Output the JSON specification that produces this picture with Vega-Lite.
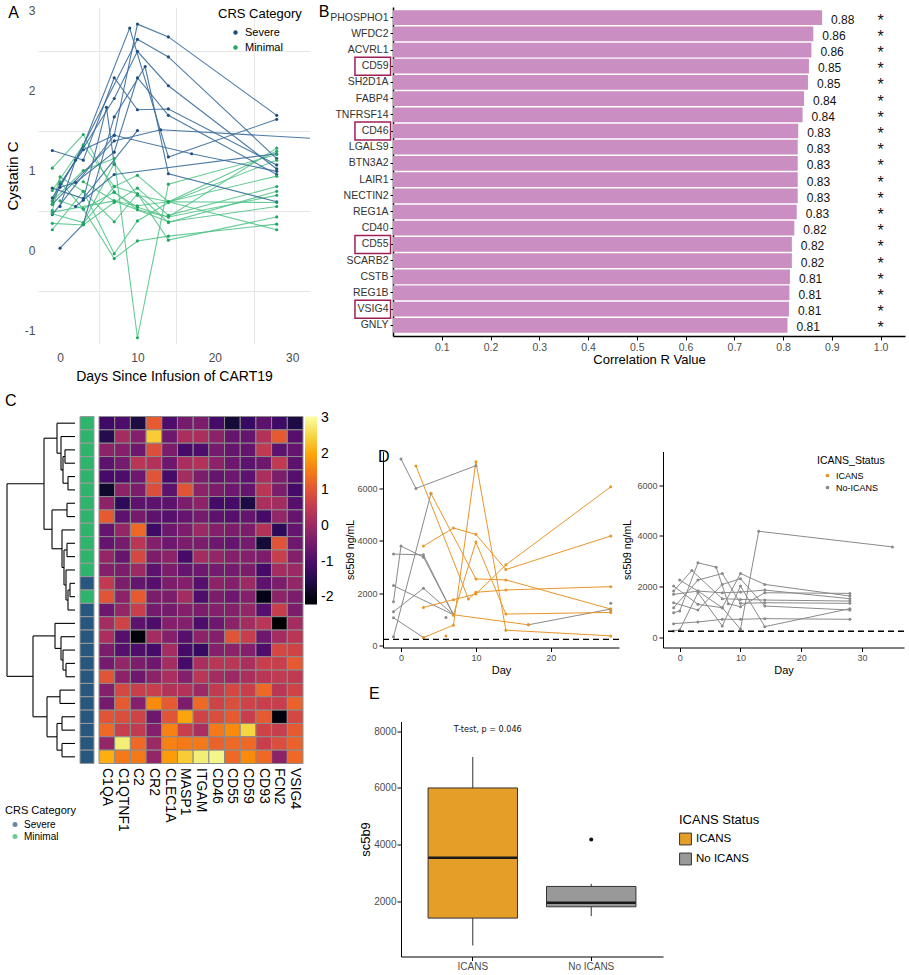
{
"$schema": "https://vega.github.io/schema/vega-lite/v6.json",
"padding": {"left": 5, "top": 3, "right": 2, "bottom": 2},
"background": "white",
"config": {
  "view": {"stroke": null},
  "font": "Liberation Sans",
  "title": {"fontWeight": "normal", "fontSize": 16, "anchor": "start", "color": "#000"},
  "axis": {"titleFontWeight": "normal", "titleColor": "#000", "labelColor": "#4d4d4d", "domainColor": "#000", "tickColor": "#000", "grid": false},
  "legend": {"titleFontWeight": "normal", "titleColor": "#000", "labelColor": "#000"}
},
"datasets": {
  "crs": [
    {"row":1,"crs":"Minimal"},{"row":2,"crs":"Minimal"},{"row":3,"crs":"Minimal"},{"row":4,"crs":"Minimal"},{"row":5,"crs":"Minimal"},{"row":6,"crs":"Minimal"},{"row":7,"crs":"Minimal"},{"row":8,"crs":"Minimal"},{"row":9,"crs":"Minimal"},{"row":10,"crs":"Minimal"},{"row":11,"crs":"Minimal"},{"row":12,"crs":"Minimal"},{"row":13,"crs":"Severe"},{"row":14,"crs":"Minimal"},{"row":15,"crs":"Severe"},{"row":16,"crs":"Severe"},{"row":17,"crs":"Severe"},{"row":18,"crs":"Severe"},{"row":19,"crs":"Severe"},{"row":20,"crs":"Severe"},{"row":21,"crs":"Severe"},{"row":22,"crs":"Severe"},{"row":23,"crs":"Severe"},{"row":24,"crs":"Severe"},{"row":25,"crs":"Severe"},{"row":26,"crs":"Severe"}
  ],
  "cys": [
      {"p":"S1","d":-1,"c":0.62,"k":"Severe"},{"p":"S1","d":3,"c":1.31,"k":"Severe"},{"p":"S1","d":9,"c":2.78,"k":"Severe"},{"p":"S1","d":14,"c":1.17,"k":"Severe"},{"p":"S1","d":28,"c":1.64,"k":"Severe"},
      {"p":"S2","d":-1,"c":0.45,"k":"Severe"},{"p":"S2","d":7,"c":1.44,"k":"Severe"},{"p":"S2","d":10,"c":2.83,"k":"Severe"},{"p":"S2","d":14,"c":2.67,"k":"Severe"},{"p":"S2","d":28,"c":1.69,"k":"Severe"},
      {"p":"S3","d":0,"c":0.55,"k":"Severe"},{"p":"S3","d":2,"c":1.13,"k":"Severe"},{"p":"S3","d":10,"c":2.64,"k":"Severe"},{"p":"S3","d":14,"c":2.42,"k":"Severe"},{"p":"S3","d":28,"c":1.15,"k":"Severe"},
      {"p":"S4","d":-1,"c":0.66,"k":"Severe"},{"p":"S4","d":7,"c":1.9,"k":"Severe"},{"p":"S4","d":10,"c":2.49,"k":"Severe"},{"p":"S4","d":14,"c":2.06,"k":"Severe"},{"p":"S4","d":28,"c":1.02,"k":"Severe"},
      {"p":"S5","d":0,"c":0.03,"k":"Severe"},{"p":"S5","d":3,"c":0.33,"k":"Severe"},{"p":"S5","d":7,"c":1.67,"k":"Severe"},{"p":"S5","d":11,"c":2.3,"k":"Severe"},{"p":"S5","d":14,"c":0.96,"k":"Severe"},{"p":"S5","d":28,"c":0.61,"k":"Severe"},
      {"p":"S6","d":-1,"c":1.25,"k":"Severe"},{"p":"S6","d":3,"c":1.13,"k":"Severe"},{"p":"S6","d":7,"c":2.16,"k":"Severe"},{"p":"S6","d":10,"c":1.76,"k":"Severe"},{"p":"S6","d":14,"c":1.77,"k":"Severe"},{"p":"S6","d":28,"c":1.07,"k":"Severe"},
      {"p":"S7","d":0,"c":0.79,"k":"Severe"},{"p":"S7","d":2,"c":0.85,"k":"Severe"},{"p":"S7","d":7,"c":1.23,"k":"Severe"},{"p":"S7","d":10,"c":2.16,"k":"Severe"},{"p":"S7","d":14,"c":1.69,"k":"Severe"},{"p":"S7","d":28,"c":0.95,"k":"Severe"},
      {"p":"S8","d":-1,"c":0.78,"k":"Severe"},{"p":"S8","d":3,"c":0.65,"k":"Severe"},{"p":"S8","d":10,"c":1.5,"k":"Severe"},
      {"p":"S9","d":-1,"c":0.58,"k":"Severe"},{"p":"S9","d":7,"c":1.37,"k":"Severe"},{"p":"S9","d":13,"c":1.51,"k":"Severe"},{"p":"S9","d":33,"c":1.40,"k":"Severe"},
      {"p":"S10","d":0,"c":0.83,"k":"Severe"},{"p":"S10","d":3,"c":1.26,"k":"Severe"},{"p":"S10","d":7,"c":1.44,"k":"Severe"},{"p":"S10","d":17,"c":1.21,"k":"Severe"},{"p":"S10","d":28,"c":0.99,"k":"Severe"},
      {"p":"S11","d":3,"c":0.63,"k":"Severe"},{"p":"S11","d":6,"c":1.79,"k":"Severe"},{"p":"S11","d":7,"c":1.08,"k":"Severe"},
      {"p":"S12","d":2,"c":0.55,"k":"Severe"},{"p":"S12","d":7,"c":0.95,"k":"Severe"},{"p":"S12","d":28,"c":1.21,"k":"Severe"},
      {"p":"G1","d":-1,"c":1.03,"k":"Minimal"},{"p":"G1","d":3,"c":1.45,"k":"Minimal"},{"p":"G1","d":7,"c":0.73,"k":"Minimal"},{"p":"G1","d":10,"c":0.54,"k":"Minimal"},{"p":"G1","d":14,"c":0.42,"k":"Minimal"},{"p":"G1","d":28,"c":1.28,"k":"Minimal"},
      {"p":"G2","d":-1,"c":0.75,"k":"Minimal"},{"p":"G2","d":3,"c":1.32,"k":"Minimal"},{"p":"G2","d":7,"c":0.80,"k":"Minimal"},{"p":"G2","d":10,"c":0.94,"k":"Minimal"},{"p":"G2","d":14,"c":0.61,"k":"Minimal"},{"p":"G2","d":28,"c":1.24,"k":"Minimal"},
      {"p":"G3","d":-1,"c":0.62,"k":"Minimal"},{"p":"G3","d":3,"c":1.00,"k":"Minimal"},{"p":"G3","d":7,"c":1.15,"k":"Minimal"},{"p":"G3","d":10,"c":-1.09,"k":"Minimal"},{"p":"G3","d":14,"c":0.83,"k":"Minimal"},{"p":"G3","d":28,"c":1.20,"k":"Minimal"},
      {"p":"G4","d":-1,"c":0.58,"k":"Minimal"},{"p":"G4","d":0,"c":0.92,"k":"Minimal"},{"p":"G4","d":3,"c":0.74,"k":"Minimal"},{"p":"G4","d":7,"c":-0.04,"k":"Minimal"},{"p":"G4","d":10,"c":0.37,"k":"Minimal"},{"p":"G4","d":14,"c":0.60,"k":"Minimal"},{"p":"G4","d":28,"c":1.13,"k":"Minimal"},
      {"p":"G5","d":-1,"c":0.50,"k":"Minimal"},{"p":"G5","d":0,"c":0.86,"k":"Minimal"},{"p":"G5","d":3,"c":0.52,"k":"Minimal"},{"p":"G5","d":7,"c":-0.10,"k":"Minimal"},{"p":"G5","d":10,"c":0.12,"k":"Minimal"},{"p":"G5","d":14,"c":0.18,"k":"Minimal"},{"p":"G5","d":28,"c":0.33,"k":"Minimal"},
      {"p":"G6","d":-1,"c":0.46,"k":"Minimal"},{"p":"G6","d":3,"c":0.35,"k":"Minimal"},{"p":"G6","d":7,"c":1.09,"k":"Minimal"},{"p":"G6","d":10,"c":0.69,"k":"Minimal"},{"p":"G6","d":14,"c":0.61,"k":"Minimal"},{"p":"G6","d":28,"c":0.93,"k":"Minimal"},
      {"p":"G7","d":-1,"c":0.34,"k":"Minimal"},{"p":"G7","d":3,"c":0.32,"k":"Minimal"},{"p":"G7","d":7,"c":0.60,"k":"Minimal"},{"p":"G7","d":10,"c":0.78,"k":"Minimal"},{"p":"G7","d":14,"c":0.44,"k":"Minimal"},{"p":"G7","d":28,"c":0.80,"k":"Minimal"},
      {"p":"G8","d":-1,"c":0.26,"k":"Minimal"},{"p":"G8","d":3,"c":0.74,"k":"Minimal"},{"p":"G8","d":7,"c":0.36,"k":"Minimal"},{"p":"G8","d":10,"c":0.71,"k":"Minimal"},{"p":"G8","d":14,"c":0.35,"k":"Minimal"},{"p":"G8","d":28,"c":0.74,"k":"Minimal"},
      {"p":"G9","d":0,"c":0.62,"k":"Minimal"},{"p":"G9","d":3,"c":0.52,"k":"Minimal"},{"p":"G9","d":7,"c":0.73,"k":"Minimal"},{"p":"G9","d":10,"c":0.51,"k":"Minimal"},{"p":"G9","d":14,"c":0.42,"k":"Minimal"},{"p":"G9","d":28,"c":0.69,"k":"Minimal"},
      {"p":"G10","d":3,"c":0.86,"k":"Minimal"},{"p":"G10","d":7,"c":0.62,"k":"Minimal"},{"p":"G10","d":10,"c":0.56,"k":"Minimal"},{"p":"G10","d":14,"c":0.61,"k":"Minimal"},{"p":"G10","d":28,"c":0.60,"k":"Minimal"},
      {"p":"G11","d":3,"c":0.34,"k":"Minimal"},{"p":"G11","d":7,"c":0.80,"k":"Minimal"},{"p":"G11","d":10,"c":0.71,"k":"Minimal"},{"p":"G11","d":14,"c":0.13,"k":"Minimal"},{"p":"G11","d":28,"c":0.42,"k":"Minimal"},
      {"p":"G12","d":-1,"c":0.48,"k":"Minimal"},{"p":"G12","d":7,"c":0.62,"k":"Minimal"},{"p":"G12","d":14,"c":0.36,"k":"Minimal"},{"p":"G12","d":28,"c":0.55,"k":"Minimal"},
      {"p":"G13","d":14,"c":0.61,"k":"Minimal"},{"p":"G13","d":28,"c":0.26,"k":"Minimal"}
  ]
},
"resolve": {"scale": {"color": "independent", "stroke": "independent"}, "legend": {"color": "independent"}},
"columns": 1,
"align": "none",
"spacing": 9.5,
"concat": [
{
  "align": "none",
  "spacing": 8,
  "resolve": {"scale": {"color": "independent", "stroke": "independent"}, "legend": {"color": "independent"}},
  "concat": [
  {
    "width": 272, "height": 337,
    "title": {"text": "A", "frame": "bounds", "offset": -16, "dx": 3},
    "data": {"name": "cys"},
    "layer": [
      {"transform": [{"filter": "datum.k == 'Minimal'"}],
       "mark": {"type": "line", "strokeWidth": 1.1, "color": "#4cc285", "opacity": 0.85, "clip": true},
       "encoding": {
        "x": {"field": "d", "type": "quantitative", "scale": {"domain": [-2.85, 32.3], "nice": false, "zero": false},
              "axis": {"title": "Days Since Infusion of CART19", "titleFontSize": 14, "labelFontSize": 12, "values": [0,5,10,15,20,25,30], "labelExpr": "datum.value % 10 == 0 ? datum.label : ''", "grid": true, "gridColor": "#e6e6e6", "gridOpacity": {"condition": {"test": "datum.value % 10 == 0", "value": 0}, "value": 1}, "domain": false, "ticks": false, "tickSize": 0, "labelPadding": 8, "titlePadding": 6}},
        "y": {"field": "c", "type": "quantitative", "scale": {"domain": [-1.168, 3.044], "nice": false, "zero": false},
              "axis": {"title": "Cystatin C", "titleFontSize": 15, "labelFontSize": 12, "values": [-1,-0.5,0,0.5,1,1.5,2,2.5,3], "labelExpr": "datum.value % 1 == 0 ? '' + datum.value : ''", "grid": true, "gridColor": "#e6e6e6", "gridOpacity": {"condition": {"test": "datum.value % 1 == 0", "value": 0}, "value": 1}, "domain": false, "ticks": false, "tickSize": 0, "labelPadding": 3, "titlePadding": 4}},
        "detail": {"field": "p"}
       }},
      {"transform": [{"filter": "datum.k == 'Severe'"}],
       "mark": {"type": "line", "strokeWidth": 1.1, "color": "#3a6d9c", "opacity": 0.9, "clip": true},
       "encoding": {
        "x": {"field": "d", "type": "quantitative"},
        "y": {"field": "c", "type": "quantitative"},
        "detail": {"field": "p"}
       }},
      {"mark": {"type": "circle", "size": 10, "opacity": 1, "clip": true},
       "encoding": {
        "x": {"field": "d", "type": "quantitative"},
        "y": {"field": "c", "type": "quantitative"},
        "color": {"field": "k", "type": "nominal", "scale": {"domain": ["Severe", "Minimal"], "range": ["#1f4f80", "#22a862"]},
                  "legend": {"title": "CRS Category", "orient": "none", "legendX": 180, "legendY": 1, "titleFontSize": 13, "labelFontSize": 11, "symbolSize": 20, "symbolType": "circle", "rowPadding": 3, "titlePadding": 6, "symbolOffset": 12}}
       }}
    ]
  },
  {
    "width": 512, "height": 329,
    "title": {"text": "B", "frame": "bounds", "offset": -12.5, "dx": -11},
    "data": {"values": [
      {"gene":"PHOSPHO1","r":0.880,"hl":false},{"gene":"WFDC2","r":0.862,"hl":false},{"gene":"ACVRL1","r":0.858,"hl":false},{"gene":"CD59","r":0.853,"hl":true},{"gene":"SH2D1A","r":0.851,"hl":false},
      {"gene":"FABP4","r":0.843,"hl":false},{"gene":"TNFRSF14","r":0.840,"hl":false},{"gene":"CD46","r":0.831,"hl":true},{"gene":"LGALS9","r":0.830,"hl":false},{"gene":"BTN3A2","r":0.830,"hl":false},
      {"gene":"LAIR1","r":0.830,"hl":false},{"gene":"NECTIN2","r":0.830,"hl":false},{"gene":"REG1A","r":0.828,"hl":false},{"gene":"CD40","r":0.823,"hl":false},{"gene":"CD55","r":0.818,"hl":true},
      {"gene":"SCARB2","r":0.818,"hl":false},{"gene":"CSTB","r":0.814,"hl":false},{"gene":"REG1B","r":0.813,"hl":false},{"gene":"VSIG4","r":0.812,"hl":true},{"gene":"GNLY","r":0.809,"hl":false}
    ]},
    "encoding": {"y": {"field": "gene", "type": "nominal", "sort": null, "scale": {"paddingInner": 0.09, "paddingOuter": 0.2},
       "axis": {"title": null, "labelFontSize": 10.5, "labelColor": "#333", "tickSize": 3, "labelPadding": 2, "domainWidth": 1.5, "tickWidth": 1}}},
    "layer": [
      {"mark": {"type": "bar", "color": "#cb8ec2"},
       "encoding": {"x": {"field": "r", "type": "quantitative", "scale": {"domain": [0, 1.05], "nice": false},
         "axis": {"title": "Correlation R Value", "titleFontSize": 13, "labelFontSize": 10.5, "values": [0.1,0.2,0.3,0.4,0.5,0.6,0.7,0.8,0.9,1.0], "format": ".1f", "tickSize": 4, "domainWidth": 1.5, "labelPadding": 2, "titlePadding": 1}}}},
      {"mark": {"type": "text", "align": "left", "baseline": "middle", "dx": 9, "dy": 2, "fontSize": 12, "color": "#111"},
       "encoding": {"x": {"field": "r", "type": "quantitative"}, "text": {"field": "r", "type": "quantitative", "format": ".2f"}}},
      {"mark": {"type": "text", "text": "*", "fontSize": 16, "baseline": "middle", "dy": 3, "color": "#111"},
       "encoding": {"x": {"datum": 1.0}}},
      {"transform": [{"filter": "datum.hl"}],
       "mark": {"type": "rect", "fillOpacity": 0, "stroke": "#9e1f57", "strokeWidth": 1.5, "height": 18},
       "encoding": {"x": {"datum": -0.078}, "x2": {"datum": -0.005}}}
    ]
  }
  ]
},
{
  "align": "none",
  "spacing": 11,
  "resolve": {"scale": {"color": "independent", "stroke": "independent"}, "legend": {"color": "independent"}},
  "concat": [
  {
    "title": {"text": "C", "frame": "bounds", "offset": 7.5},
    "align": "none",
    "spacing": 3,
    "resolve": {"scale": {"color": "independent"}, "legend": {"color": "independent"}},
    "concat": [
    {
      "width": 37, "height": 347,
      "layer": [
        {"data": {"values": [
          {"h1":0,"h2":10,"r1":3,"r2":3},{"h1":0,"h2":10,"r1":4,"r2":4},{"h1":10,"h2":10,"r1":3,"r2":4},
          {"h1":0,"h2":7,"r1":5,"r2":5},{"h1":0,"h2":7,"r1":6,"r2":6},{"h1":7,"h2":7,"r1":5,"r2":6},
          {"h1":10,"h2":12,"r1":3.5,"r2":3.5},{"h1":7,"h2":12,"r1":5.5,"r2":5.5},{"h1":12,"h2":12,"r1":3.5,"r2":5.5},
          {"h1":0,"h2":14,"r1":2,"r2":2},{"h1":12,"h2":14,"r1":4.5,"r2":4.5},{"h1":14,"h2":14,"r1":2,"r2":4.5},
          {"h1":0,"h2":18,"r1":1,"r2":1},{"h1":14,"h2":18,"r1":3.25,"r2":3.25},{"h1":18,"h2":18,"r1":1,"r2":3.25},
          {"h1":0,"h2":8,"r1":7,"r2":7},{"h1":0,"h2":8,"r1":8,"r2":8},{"h1":8,"h2":8,"r1":7,"r2":8},
          {"h1":0,"h2":8,"r1":10,"r2":10},{"h1":0,"h2":8,"r1":11,"r2":11},{"h1":8,"h2":8,"r1":10,"r2":11},
          {"h1":0,"h2":5,"r1":13,"r2":13},{"h1":0,"h2":5,"r1":14,"r2":14},{"h1":5,"h2":5,"r1":13,"r2":14},
          {"h1":5,"h2":7,"r1":13.5,"r2":13.5},{"h1":0,"h2":7,"r1":15,"r2":15},{"h1":7,"h2":7,"r1":13.5,"r2":15},
          {"h1":0,"h2":9,"r1":12,"r2":12},{"h1":7,"h2":9,"r1":14.25,"r2":14.25},{"h1":9,"h2":9,"r1":12,"r2":14.25},
          {"h1":8,"h2":11,"r1":10.5,"r2":10.5},{"h1":9,"h2":11,"r1":13.125,"r2":13.125},{"h1":11,"h2":11,"r1":10.5,"r2":13.125},
          {"h1":0,"h2":13,"r1":9,"r2":9},{"h1":11,"h2":13,"r1":11.81,"r2":11.81},{"h1":13,"h2":13,"r1":9,"r2":11.81},
          {"h1":8,"h2":23,"r1":7.5,"r2":7.5},{"h1":13,"h2":23,"r1":10.41,"r2":10.41},{"h1":23,"h2":23,"r1":7.5,"r2":10.41},
          {"h1":18,"h2":31,"r1":2.125,"r2":2.125},{"h1":23,"h2":31,"r1":8.95,"r2":8.95},{"h1":31,"h2":31,"r1":2.125,"r2":8.95},
          {"h1":0,"h2":9,"r1":19,"r2":19},{"h1":0,"h2":9,"r1":20,"r2":20},{"h1":9,"h2":9,"r1":19,"r2":20},
          {"h1":0,"h2":12,"r1":18,"r2":18},{"h1":9,"h2":12,"r1":19.5,"r2":19.5},{"h1":12,"h2":12,"r1":18,"r2":19.5},
          {"h1":0,"h2":14,"r1":17,"r2":17},{"h1":12,"h2":14,"r1":18.75,"r2":18.75},{"h1":14,"h2":14,"r1":17,"r2":18.75},
          {"h1":0,"h2":20,"r1":16,"r2":16},{"h1":14,"h2":20,"r1":17.875,"r2":17.875},{"h1":20,"h2":20,"r1":16,"r2":17.875},
          {"h1":0,"h2":15,"r1":21,"r2":21},{"h1":0,"h2":15,"r1":22,"r2":22},{"h1":15,"h2":15,"r1":21,"r2":22},
          {"h1":0,"h2":13,"r1":23,"r2":23},{"h1":0,"h2":13,"r1":24,"r2":24},{"h1":13,"h2":13,"r1":23,"r2":24},
          {"h1":0,"h2":13,"r1":25,"r2":25},{"h1":0,"h2":13,"r1":26,"r2":26},{"h1":13,"h2":13,"r1":25,"r2":26},
          {"h1":13,"h2":18,"r1":23.5,"r2":23.5},{"h1":13,"h2":18,"r1":25.5,"r2":25.5},{"h1":18,"h2":18,"r1":23.5,"r2":25.5},
          {"h1":15,"h2":28,"r1":21.5,"r2":21.5},{"h1":18,"h2":28,"r1":24.5,"r2":24.5},{"h1":28,"h2":28,"r1":21.5,"r2":24.5},
          {"h1":20,"h2":42,"r1":16.94,"r2":16.94},{"h1":28,"h2":42,"r1":23,"r2":23},{"h1":42,"h2":42,"r1":16.94,"r2":23},
          {"h1":31,"h2":68,"r1":5.54,"r2":5.54},{"h1":42,"h2":68,"r1":19.97,"r2":19.97},{"h1":68,"h2":68,"r1":5.54,"r2":19.97}
        ]},
         "mark": {"type": "rule", "color": "#000", "strokeWidth": 1.1},
         "encoding": {
          "x": {"field": "h1", "type": "quantitative", "scale": {"domain": [0, 37], "reverse": true, "nice": false, "zero": false}, "axis": null},
          "x2": {"field": "h2"},
          "y": {"field": "r1", "type": "quantitative", "scale": {"domain": [0.5, 26.5], "reverse": true, "nice": false, "zero": false}, "axis": null},
          "y2": {"field": "r2"}
         }},
        {"data": {"name": "crs"},
         "mark": {"type": "circle", "size": 0},
         "encoding": {
          "x": {"datum": 0},
          "y": {"field": "row", "type": "quantitative"},
          "color": {"field": "crs", "type": "nominal", "scale": {"domain": ["Severe", "Minimal"], "range": ["#27567f", "#2eb46c"]},
            "legend": {"title": "CRS Category", "orient": "none", "legendX": -33, "legendY": 388, "titleFontSize": 11, "labelFontSize": 10, "symbolSize": 25, "symbolType": "circle", "rowPadding": 2, "titlePadding": 4, "symbolOffset": 5}}
         }}
      ]
    },
    {
      "width": 14, "height": 347,
      "data": {"name": "crs"},
      "mark": {"type": "rect", "stroke": "#9a9a9a", "strokeWidth": 1},
      "encoding": {
        "y": {"field": "row", "type": "ordinal", "axis": null, "scale": {"paddingInner": 0, "paddingOuter": 0}},
        "color": {"field": "crs", "type": "nominal", "scale": {"domain": ["Severe", "Minimal"], "range": ["#27567f", "#2eb46c"]}, "legend": null}
      }
    },
    {
      "width": 204, "height": 347,
      "data": {"values": [
{"r":1,"g":"C1QA","v":-1.2},{"r":1,"g":"C1QTNF1","v":-1.0},{"r":1,"g":"C2","v":-1.6},{"r":1,"g":"CR2","v":1.1},{"r":1,"g":"CLEC1A","v":-1.0},{"r":1,"g":"MASP1","v":-0.5},{"r":1,"g":"ITGAM","v":-0.4},{"r":1,"g":"CD46","v":-1.1},{"r":1,"g":"CD55","v":-1.7},{"r":1,"g":"CD59","v":-1.3},{"r":1,"g":"CD93","v":-0.8},{"r":1,"g":"FCN2","v":-1.2},{"r":1,"g":"VSIG4","v":-1.6},
{"r":2,"g":"C1QA","v":-1.5},{"r":2,"g":"C1QTNF1","v":0.1},{"r":2,"g":"C2","v":-0.3},{"r":2,"g":"CR2","v":2.4},{"r":2,"g":"CLEC1A","v":-0.6},{"r":2,"g":"MASP1","v":0.2},{"r":2,"g":"ITGAM","v":0.2},{"r":2,"g":"CD46","v":-0.2},{"r":2,"g":"CD55","v":-0.7},{"r":2,"g":"CD59","v":-0.7},{"r":2,"g":"CD93","v":0.3},{"r":2,"g":"FCN2","v":1.1},{"r":2,"g":"VSIG4","v":-0.9},
{"r":3,"g":"C1QA","v":-0.2},{"r":3,"g":"C1QTNF1","v":-0.3},{"r":3,"g":"C2","v":-0.6},{"r":3,"g":"CR2","v":0.9},{"r":3,"g":"CLEC1A","v":-0.4},{"r":3,"g":"MASP1","v":-1.1},{"r":3,"g":"ITGAM","v":-1.0},{"r":3,"g":"CD46","v":-0.5},{"r":3,"g":"CD55","v":-0.7},{"r":3,"g":"CD59","v":-0.7},{"r":3,"g":"CD93","v":0.5},{"r":3,"g":"FCN2","v":-0.8},{"r":3,"g":"VSIG4","v":-0.7},
{"r":4,"g":"C1QA","v":-0.8},{"r":4,"g":"C1QTNF1","v":-0.5},{"r":4,"g":"C2","v":0.4},{"r":4,"g":"CR2","v":0.3},{"r":4,"g":"CLEC1A","v":-0.6},{"r":4,"g":"MASP1","v":0.2},{"r":4,"g":"ITGAM","v":0.3},{"r":4,"g":"CD46","v":-0.2},{"r":4,"g":"CD55","v":-0.6},{"r":4,"g":"CD59","v":-0.8},{"r":4,"g":"CD93","v":-0.6},{"r":4,"g":"FCN2","v":0.5},{"r":4,"g":"VSIG4","v":-0.8},
{"r":5,"g":"C1QA","v":-1.1},{"r":5,"g":"C1QTNF1","v":-1.0},{"r":5,"g":"C2","v":-0.6},{"r":5,"g":"CR2","v":1.0},{"r":5,"g":"CLEC1A","v":-1.1},{"r":5,"g":"MASP1","v":0.1},{"r":5,"g":"ITGAM","v":-0.4},{"r":5,"g":"CD46","v":-0.7},{"r":5,"g":"CD55","v":-0.6},{"r":5,"g":"CD59","v":-0.8},{"r":5,"g":"CD93","v":0.2},{"r":5,"g":"FCN2","v":-0.4},{"r":5,"g":"VSIG4","v":-0.9},
{"r":6,"g":"C1QA","v":-1.8},{"r":6,"g":"C1QTNF1","v":-0.2},{"r":6,"g":"C2","v":-0.4},{"r":6,"g":"CR2","v":0.9},{"r":6,"g":"CLEC1A","v":-0.8},{"r":6,"g":"MASP1","v":1.0},{"r":6,"g":"ITGAM","v":-0.2},{"r":6,"g":"CD46","v":-0.4},{"r":6,"g":"CD55","v":-0.6},{"r":6,"g":"CD59","v":-0.7},{"r":6,"g":"CD93","v":0.4},{"r":6,"g":"FCN2","v":-0.4},{"r":6,"g":"VSIG4","v":-1.1},
{"r":7,"g":"C1QA","v":-0.2},{"r":7,"g":"C1QTNF1","v":-1.4},{"r":7,"g":"C2","v":-0.8},{"r":7,"g":"CR2","v":-0.8},{"r":7,"g":"CLEC1A","v":-0.8},{"r":7,"g":"MASP1","v":-0.4},{"r":7,"g":"ITGAM","v":-0.2},{"r":7,"g":"CD46","v":-1.1},{"r":7,"g":"CD55","v":-1.1},{"r":7,"g":"CD59","v":-1.6},{"r":7,"g":"CD93","v":0.2},{"r":7,"g":"FCN2","v":0.1},{"r":7,"g":"VSIG4","v":-0.9},
{"r":8,"g":"C1QA","v":1.1},{"r":8,"g":"C1QTNF1","v":-0.8},{"r":8,"g":"C2","v":-0.5},{"r":8,"g":"CR2","v":-0.8},{"r":8,"g":"CLEC1A","v":-0.9},{"r":8,"g":"MASP1","v":-0.7},{"r":8,"g":"ITGAM","v":-0.5},{"r":8,"g":"CD46","v":-0.8},{"r":8,"g":"CD55","v":-0.9},{"r":8,"g":"CD59","v":-0.7},{"r":8,"g":"CD93","v":-1.1},{"r":8,"g":"FCN2","v":-0.1},{"r":8,"g":"VSIG4","v":-0.7},
{"r":9,"g":"C1QA","v":-0.7},{"r":9,"g":"C1QTNF1","v":-0.1},{"r":9,"g":"C2","v":1.3},{"r":9,"g":"CR2","v":-1.2},{"r":9,"g":"CLEC1A","v":-0.6},{"r":9,"g":"MASP1","v":-0.4},{"r":9,"g":"ITGAM","v":0.0},{"r":9,"g":"CD46","v":-0.3},{"r":9,"g":"CD55","v":-0.4},{"r":9,"g":"CD59","v":-0.4},{"r":9,"g":"CD93","v":0.3},{"r":9,"g":"FCN2","v":-1.4},{"r":9,"g":"VSIG4","v":-0.7},
{"r":10,"g":"C1QA","v":-0.7},{"r":10,"g":"C1QTNF1","v":-0.5},{"r":10,"g":"C2","v":0.4},{"r":10,"g":"CR2","v":-0.3},{"r":10,"g":"CLEC1A","v":-0.6},{"r":10,"g":"MASP1","v":-0.4},{"r":10,"g":"ITGAM","v":-0.4},{"r":10,"g":"CD46","v":-0.6},{"r":10,"g":"CD55","v":-0.7},{"r":10,"g":"CD59","v":-0.5},{"r":10,"g":"CD93","v":-1.7},{"r":10,"g":"FCN2","v":1.0},{"r":10,"g":"VSIG4","v":-0.6},
{"r":11,"g":"C1QA","v":-0.1},{"r":11,"g":"C1QTNF1","v":-0.7},{"r":11,"g":"C2","v":0.8},{"r":11,"g":"CR2","v":-0.4},{"r":11,"g":"CLEC1A","v":-0.2},{"r":11,"g":"MASP1","v":-1.1},{"r":11,"g":"ITGAM","v":0.1},{"r":11,"g":"CD46","v":-0.1},{"r":11,"g":"CD55","v":-0.3},{"r":11,"g":"CD59","v":-0.3},{"r":11,"g":"CD93","v":-0.4},{"r":11,"g":"FCN2","v":0.6},{"r":11,"g":"VSIG4","v":-0.3},
{"r":12,"g":"C1QA","v":-0.3},{"r":12,"g":"C1QTNF1","v":-0.4},{"r":12,"g":"C2","v":0.0},{"r":12,"g":"CR2","v":-0.8},{"r":12,"g":"CLEC1A","v":-0.4},{"r":12,"g":"MASP1","v":-0.7},{"r":12,"g":"ITGAM","v":-0.6},{"r":12,"g":"CD46","v":-0.5},{"r":12,"g":"CD55","v":-0.5},{"r":12,"g":"CD59","v":-0.4},{"r":12,"g":"CD93","v":-1.1},{"r":12,"g":"FCN2","v":0.1},{"r":12,"g":"VSIG4","v":0.0},
{"r":13,"g":"C1QA","v":0.5},{"r":13,"g":"C1QTNF1","v":-0.4},{"r":13,"g":"C2","v":-0.7},{"r":13,"g":"CR2","v":-0.9},{"r":13,"g":"CLEC1A","v":-0.4},{"r":13,"g":"MASP1","v":-0.3},{"r":13,"g":"ITGAM","v":-0.9},{"r":13,"g":"CD46","v":-0.2},{"r":13,"g":"CD55","v":-0.3},{"r":13,"g":"CD59","v":0.0},{"r":13,"g":"CD93","v":-0.8},{"r":13,"g":"FCN2","v":-0.4},{"r":13,"g":"VSIG4","v":-0.1},
{"r":14,"g":"C1QA","v":1.0},{"r":14,"g":"C1QTNF1","v":-0.2},{"r":14,"g":"C2","v":1.1},{"r":14,"g":"CR2","v":-0.4},{"r":14,"g":"CLEC1A","v":-0.4},{"r":14,"g":"MASP1","v":0.1},{"r":14,"g":"ITGAM","v":-1.0},{"r":14,"g":"CD46","v":-0.4},{"r":14,"g":"CD55","v":-0.6},{"r":14,"g":"CD59","v":-0.3},{"r":14,"g":"CD93","v":-2.0},{"r":14,"g":"FCN2","v":-0.2},{"r":14,"g":"VSIG4","v":-0.4},
{"r":15,"g":"C1QA","v":-0.6},{"r":15,"g":"C1QTNF1","v":-0.1},{"r":15,"g":"C2","v":0.6},{"r":15,"g":"CR2","v":-0.5},{"r":15,"g":"CLEC1A","v":-0.5},{"r":15,"g":"MASP1","v":-0.3},{"r":15,"g":"ITGAM","v":-0.4},{"r":15,"g":"CD46","v":-0.3},{"r":15,"g":"CD55","v":-0.3},{"r":15,"g":"CD59","v":-0.1},{"r":15,"g":"CD93","v":-0.9},{"r":15,"g":"FCN2","v":0.6},{"r":15,"g":"VSIG4","v":-0.4},
{"r":16,"g":"C1QA","v":0.1},{"r":16,"g":"C1QTNF1","v":0.7},{"r":16,"g":"C2","v":-0.8},{"r":16,"g":"CR2","v":-1.0},{"r":16,"g":"CLEC1A","v":-0.3},{"r":16,"g":"MASP1","v":-0.3},{"r":16,"g":"ITGAM","v":-1.0},{"r":16,"g":"CD46","v":-0.6},{"r":16,"g":"CD55","v":-0.2},{"r":16,"g":"CD59","v":0.1},{"r":16,"g":"CD93","v":0.4},{"r":16,"g":"FCN2","v":-2.2},{"r":16,"g":"VSIG4","v":0.1},
{"r":17,"g":"C1QA","v":0.2},{"r":17,"g":"C1QTNF1","v":-0.9},{"r":17,"g":"C2","v":-2.1},{"r":17,"g":"CR2","v":0.1},{"r":17,"g":"CLEC1A","v":-0.3},{"r":17,"g":"MASP1","v":-0.9},{"r":17,"g":"ITGAM","v":-0.2},{"r":17,"g":"CD46","v":-0.3},{"r":17,"g":"CD55","v":1.0},{"r":17,"g":"CD59","v":0.6},{"r":17,"g":"CD93","v":-0.6},{"r":17,"g":"FCN2","v":0.1},{"r":17,"g":"VSIG4","v":0.4},
{"r":18,"g":"C1QA","v":-0.4},{"r":18,"g":"C1QTNF1","v":-0.9},{"r":18,"g":"C2","v":-1.0},{"r":18,"g":"CR2","v":-1.1},{"r":18,"g":"CLEC1A","v":0.1},{"r":18,"g":"MASP1","v":-1.1},{"r":18,"g":"ITGAM","v":-1.3},{"r":18,"g":"CD46","v":-0.3},{"r":18,"g":"CD55","v":-0.2},{"r":18,"g":"CD59","v":-0.3},{"r":18,"g":"CD93","v":-1.0},{"r":18,"g":"FCN2","v":0.8},{"r":18,"g":"VSIG4","v":0.7},
{"r":19,"g":"C1QA","v":-0.5},{"r":19,"g":"C1QTNF1","v":-0.1},{"r":19,"g":"C2","v":-0.4},{"r":19,"g":"CR2","v":-0.6},{"r":19,"g":"CLEC1A","v":0.1},{"r":19,"g":"MASP1","v":-1.1},{"r":19,"g":"ITGAM","v":0.2},{"r":19,"g":"CD46","v":0.4},{"r":19,"g":"CD55","v":0.4},{"r":19,"g":"CD59","v":0.2},{"r":19,"g":"CD93","v":0.6},{"r":19,"g":"FCN2","v":0.6},{"r":19,"g":"VSIG4","v":1.1},
{"r":20,"g":"C1QA","v":1.0},{"r":20,"g":"C1QTNF1","v":-0.2},{"r":20,"g":"C2","v":-0.6},{"r":20,"g":"CR2","v":-0.2},{"r":20,"g":"CLEC1A","v":0.2},{"r":20,"g":"MASP1","v":-0.3},{"r":20,"g":"ITGAM","v":0.4},{"r":20,"g":"CD46","v":0.1},{"r":20,"g":"CD55","v":0.0},{"r":20,"g":"CD59","v":0.2},{"r":20,"g":"CD93","v":0.4},{"r":20,"g":"FCN2","v":0.5},{"r":20,"g":"VSIG4","v":0.5},
{"r":21,"g":"C1QA","v":-0.3},{"r":21,"g":"C1QTNF1","v":0.8},{"r":21,"g":"C2","v":0.6},{"r":21,"g":"CR2","v":0.6},{"r":21,"g":"CLEC1A","v":0.3},{"r":21,"g":"MASP1","v":0.3},{"r":21,"g":"ITGAM","v":0.0},{"r":21,"g":"CD46","v":0.5},{"r":21,"g":"CD55","v":0.8},{"r":21,"g":"CD59","v":0.6},{"r":21,"g":"CD93","v":1.3},{"r":21,"g":"FCN2","v":0.4},{"r":21,"g":"VSIG4","v":0.7},
{"r":22,"g":"C1QA","v":-0.5},{"r":22,"g":"C1QTNF1","v":1.1},{"r":22,"g":"C2","v":-0.3},{"r":22,"g":"CR2","v":1.7},{"r":22,"g":"CLEC1A","v":1.1},{"r":22,"g":"MASP1","v":-0.4},{"r":22,"g":"ITGAM","v":1.3},{"r":22,"g":"CD46","v":0.7},{"r":22,"g":"CD55","v":0.9},{"r":22,"g":"CD59","v":0.7},{"r":22,"g":"CD93","v":0.6},{"r":22,"g":"FCN2","v":0.6},{"r":22,"g":"VSIG4","v":1.2},
{"r":23,"g":"C1QA","v":1.0},{"r":23,"g":"C1QTNF1","v":0.9},{"r":23,"g":"C2","v":0.7},{"r":23,"g":"CR2","v":-0.6},{"r":23,"g":"CLEC1A","v":1.0},{"r":23,"g":"MASP1","v":2.0},{"r":23,"g":"ITGAM","v":0.7},{"r":23,"g":"CD46","v":0.9},{"r":23,"g":"CD55","v":1.1},{"r":23,"g":"CD59","v":0.6},{"r":23,"g":"CD93","v":1.1},{"r":23,"g":"FCN2","v":-2.1},{"r":23,"g":"VSIG4","v":0.8},
{"r":24,"g":"C1QA","v":1.3},{"r":24,"g":"C1QTNF1","v":0.6},{"r":24,"g":"C2","v":0.5},{"r":24,"g":"CR2","v":-0.3},{"r":24,"g":"CLEC1A","v":1.6},{"r":24,"g":"MASP1","v":0.6},{"r":24,"g":"ITGAM","v":0.2},{"r":24,"g":"CD46","v":1.5},{"r":24,"g":"CD55","v":1.7},{"r":24,"g":"CD59","v":2.5},{"r":24,"g":"CD93","v":0.7},{"r":24,"g":"FCN2","v":0.6},{"r":24,"g":"VSIG4","v":1.1},
{"r":25,"g":"C1QA","v":-0.1},{"r":25,"g":"C1QTNF1","v":2.8},{"r":25,"g":"C2","v":1.3},{"r":25,"g":"CR2","v":0.0},{"r":25,"g":"CLEC1A","v":1.6},{"r":25,"g":"MASP1","v":1.5},{"r":25,"g":"ITGAM","v":1.5},{"r":25,"g":"CD46","v":1.2},{"r":25,"g":"CD55","v":1.3},{"r":25,"g":"CD59","v":1.3},{"r":25,"g":"CD93","v":0.6},{"r":25,"g":"FCN2","v":0.9},{"r":25,"g":"VSIG4","v":1.2},
{"r":26,"g":"C1QA","v":2.1},{"r":26,"g":"C1QTNF1","v":1.5},{"r":26,"g":"C2","v":1.5},{"r":26,"g":"CR2","v":-0.1},{"r":26,"g":"CLEC1A","v":1.9},{"r":26,"g":"MASP1","v":2.4},{"r":26,"g":"ITGAM","v":2.8},{"r":26,"g":"CD46","v":2.9},{"r":26,"g":"CD55","v":1.3},{"r":26,"g":"CD59","v":1.7},{"r":26,"g":"CD93","v":1.3},{"r":26,"g":"FCN2","v":-0.2},{"r":26,"g":"VSIG4","v":1.3}
      ]},
      "mark": {"type": "rect", "stroke": "#8c8c8c", "strokeWidth": 1},
      "encoding": {
        "x": {"field": "g", "type": "nominal", "sort": ["C1QA","C1QTNF1","C2","CR2","CLEC1A","MASP1","ITGAM","CD46","CD55","CD59","CD93","FCN2","VSIG4"], "scale": {"paddingInner": 0, "paddingOuter": 0},
              "axis": {"title": null, "labelAngle": 90, "labelFontSize": 14, "labelColor": "#000", "ticks": false, "domain": false, "labelPadding": 4}},
        "y": {"field": "r", "type": "ordinal", "axis": null, "scale": {"paddingInner": 0, "paddingOuter": 0}},
        "color": {"field": "v", "type": "quantitative", "scale": {"scheme": "inferno", "domain": [-2.2, 3.05]},
          "legend": {"title": null, "orient": "right", "offset": 2, "gradientLength": 188, "gradientThickness": 12, "labelFontSize": 14, "labelColor": "#000", "values": [-2,-1,0,1,2,3], "labelExpr": "'' + datum.value", "labelOffset": 4, "gradientStrokeWidth": 0}}
      }
    }
    ]
  },
  {
    "columns": 1,
    "align": "none",
    "spacing": 10,
    "resolve": {"scale": {"color": "independent", "stroke": "independent"}, "legend": {"color": "independent"}},
    "concat": [
    {
      "width": 10, "height": 22,
      "data": {"values": [{"a": 0}]},
      "mark": {"type": "text", "text": ""},
      "encoding": {}
    },
    {
      "align": "none",
      "spacing": 2,
      "resolve": {"scale": {"color": "independent", "stroke": "independent"}, "legend": {"color": "independent"}},
      "concat": [
      {
        "width": 236, "height": 196,
        "title": {"text": "D", "frame": "group", "offset": -13.8, "dx": -5},
        "data": {"values": [
          {"p":"N1","d":0,"v":7126,"s":"No-ICANS"},{"p":"N1","d":2,"v":6002,"s":"No-ICANS"},{"p":"N1","d":10,"v":6870,"s":"No-ICANS"},
          {"p":"N2","d":-1,"v":1686,"s":"No-ICANS"},{"p":"N2","d":0,"v":3805,"s":"No-ICANS"},{"p":"N2","d":3,"v":3384,"s":"No-ICANS"},{"p":"N2","d":7,"v":1188,"s":"No-ICANS"},
          {"p":"N3","d":-1,"v":3499,"s":"No-ICANS"},{"p":"N3","d":3,"v":3473,"s":"No-ICANS"},{"p":"N3","d":7,"v":1188,"s":"No-ICANS"},
          {"p":"N4","d":-1,"v":345,"s":"No-ICANS"},{"p":"N4","d":4,"v":5810,"s":"No-ICANS"},
          {"p":"N5","d":-1,"v":2299,"s":"No-ICANS"},{"p":"N5","d":7,"v":1188,"s":"No-ICANS"},
          {"p":"N6","d":-1,"v":1302,"s":"No-ICANS"},{"p":"N6","d":3,"v":2196,"s":"No-ICANS"},{"p":"N6","d":7,"v":1188,"s":"No-ICANS"},
          {"p":"N7","d":-1,"v":1073,"s":"No-ICANS"},{"p":"N7","d":3,"v":319,"s":"No-ICANS"},
          {"p":"N8","d":6,"v":1085,"s":"No-ICANS"},
          {"p":"N9","d":17,"v":805,"s":"No-ICANS"},{"p":"N9","d":28,"v":1405,"s":"No-ICANS"},
          {"p":"N10","d":28,"v":1622,"s":"No-ICANS"},
          {"p":"N11","d":28,"v":1341,"s":"No-ICANS"},
          {"p":"O1","d":2,"v":6858,"s":"ICANS"},{"p":"O1","d":9,"v":1788,"s":"ICANS"},{"p":"O1","d":10,"v":2043,"s":"ICANS"},{"p":"O1","d":14,"v":2133,"s":"ICANS"},{"p":"O1","d":28,"v":2260,"s":"ICANS"},
          {"p":"O2","d":4,"v":5810,"s":"ICANS"},{"p":"O2","d":10,"v":2554,"s":"ICANS"},{"p":"O2","d":14,"v":2516,"s":"ICANS"},{"p":"O2","d":28,"v":1405,"s":"ICANS"},
          {"p":"O3","d":3,"v":3805,"s":"ICANS"},{"p":"O3","d":7,"v":4495,"s":"ICANS"},{"p":"O3","d":10,"v":4252,"s":"ICANS"},{"p":"O3","d":14,"v":2912,"s":"ICANS"},{"p":"O3","d":28,"v":4189,"s":"ICANS"},
          {"p":"O4","d":3,"v":1469,"s":"ICANS"},{"p":"O4","d":7,"v":1762,"s":"ICANS"},{"p":"O4","d":10,"v":1979,"s":"ICANS"},{"p":"O4","d":14,"v":3090,"s":"ICANS"},{"p":"O4","d":28,"v":6066,"s":"ICANS"},
          {"p":"O5","d":3,"v":319,"s":"ICANS"},{"p":"O5","d":7,"v":792,"s":"ICANS"},{"p":"O5","d":10,"v":7024,"s":"ICANS"},{"p":"O5","d":14,"v":600,"s":"ICANS"},{"p":"O5","d":28,"v":383,"s":"ICANS"},
          {"p":"O6","d":7,"v":1188,"s":"ICANS"},{"p":"O6","d":10,"v":3959,"s":"ICANS"},{"p":"O6","d":14,"v":1213,"s":"ICANS"},{"p":"O6","d":28,"v":1277,"s":"ICANS"},
          {"p":"O7","d":6,"v":383,"s":"ICANS"},
          {"p":"O8","d":7,"v":1188,"s":"ICANS"},{"p":"O8","d":17,"v":805,"s":"ICANS"}
        ]},
        "layer": [
          {"mark": {"type": "line", "strokeWidth": 1},
           "encoding": {
            "x": {"field": "d", "type": "quantitative", "scale": {"domain": [-2.4, 29.1], "nice": false, "zero": false},
                  "axis": {"title": "Day", "values": [0,10,20], "labelFontSize": 9, "titleFontSize": 11, "tickSize": 4, "labelPadding": 2, "titlePadding": 2}},
            "y": {"field": "v", "type": "quantitative", "scale": {"domain": [-60, 7410], "nice": false, "zero": false},
                  "axis": {"title": "sc5b9 ng/mL", "values": [0,2000,4000,6000], "format": "d", "labelFontSize": 9, "titleFontSize": 10.5, "tickSize": 4, "labelPadding": 2, "titlePadding": 1.5}},
            "stroke": {"field": "s", "type": "nominal", "scale": {"domain": ["ICANS", "No-ICANS"], "range": ["#e8962a", "#8a8a8a"]}, "legend": null},
            "detail": {"field": "p"}
           }},
          {"mark": {"type": "circle", "size": 9, "opacity": 1},
           "encoding": {
            "x": {"field": "d", "type": "quantitative"},
            "y": {"field": "v", "type": "quantitative"},
            "color": {"field": "s", "type": "nominal", "scale": {"domain": ["ICANS", "No-ICANS"], "range": ["#e8962a", "#8a8a8a"]}, "legend": null}
           }},
          {"data": {"values": [{"a": 0}]},
           "mark": {"type": "rule", "strokeDash": [6, 4], "strokeWidth": 1.4, "color": "#000"},
           "encoding": {"y": {"datum": 250}}}
        ]
      },
      {
        "width": 241, "height": 196,
        "data": {"values": [
          {"p":"P1","d":-1,"v":2026,"s":"No-ICANS"},{"p":"P1","d":3,"v":1307,"s":"No-ICANS"},{"p":"P1","d":7,"v":1176,"s":"No-ICANS"},{"p":"P1","d":10,"v":2522,"s":"No-ICANS"},{"p":"P1","d":14,"v":2091,"s":"No-ICANS"},{"p":"P1","d":28,"v":1634,"s":"No-ICANS"},
          {"p":"P2","d":-1,"v":1830,"s":"No-ICANS"},{"p":"P2","d":2,"v":2640,"s":"No-ICANS"},{"p":"P2","d":7,"v":1529,"s":"No-ICANS"},{"p":"P2","d":10,"v":1503,"s":"No-ICANS"},{"p":"P2","d":14,"v":1477,"s":"No-ICANS"},{"p":"P2","d":28,"v":1437,"s":"No-ICANS"},
          {"p":"P3","d":-1,"v":1700,"s":"No-ICANS"},{"p":"P3","d":3,"v":1830,"s":"No-ICANS"},{"p":"P3","d":7,"v":1764,"s":"No-ICANS"},{"p":"P3","d":10,"v":1790,"s":"No-ICANS"},{"p":"P3","d":14,"v":1869,"s":"No-ICANS"},{"p":"P3","d":28,"v":1529,"s":"No-ICANS"},
          {"p":"P4","d":-1,"v":1372,"s":"No-ICANS"},{"p":"P4","d":3,"v":1085,"s":"No-ICANS"},{"p":"P4","d":7,"v":2091,"s":"No-ICANS"},{"p":"P4","d":10,"v":2313,"s":"No-ICANS"},{"p":"P4","d":14,"v":1241,"s":"No-ICANS"},{"p":"P4","d":28,"v":1085,"s":"No-ICANS"},
          {"p":"P5","d":-1,"v":1176,"s":"No-ICANS"},{"p":"P5","d":3,"v":2261,"s":"No-ICANS"},{"p":"P5","d":7,"v":2522,"s":"No-ICANS"},{"p":"P5","d":10,"v":1346,"s":"No-ICANS"},{"p":"P5","d":14,"v":1372,"s":"No-ICANS"},{"p":"P5","d":28,"v":1346,"s":"No-ICANS"},
          {"p":"P6","d":-1,"v":980,"s":"No-ICANS"},{"p":"P6","d":0,"v":1046,"s":"No-ICANS"},{"p":"P6","d":3,"v":2941,"s":"No-ICANS"},{"p":"P6","d":6,"v":2771,"s":"No-ICANS"},{"p":"P6","d":8,"v":1333,"s":"No-ICANS"},{"p":"P6","d":10,"v":1215,"s":"No-ICANS"},{"p":"P6","d":14,"v":1764,"s":"No-ICANS"},{"p":"P6","d":28,"v":1738,"s":"No-ICANS"},
          {"p":"P7","d":-1,"v":549,"s":"No-ICANS"},{"p":"P7","d":3,"v":614,"s":"No-ICANS"},{"p":"P7","d":7,"v":719,"s":"No-ICANS"},{"p":"P7","d":10,"v":719,"s":"No-ICANS"},{"p":"P7","d":14,"v":745,"s":"No-ICANS"},{"p":"P7","d":28,"v":719,"s":"No-ICANS"},
          {"p":"P8","d":-1,"v":261,"s":"No-ICANS"},{"p":"P8","d":0,"v":300,"s":"No-ICANS"},{"p":"P8","d":3,"v":1764,"s":"No-ICANS"},{"p":"P8","d":7,"v":457,"s":"No-ICANS"},{"p":"P8","d":10,"v":2026,"s":"No-ICANS"},{"p":"P8","d":14,"v":431,"s":"No-ICANS"},{"p":"P8","d":28,"v":1137,"s":"No-ICANS"},
          {"p":"P9","d":0,"v":2261,"s":"No-ICANS"},{"p":"P9","d":3,"v":1830,"s":"No-ICANS"},{"p":"P9","d":7,"v":1176,"s":"No-ICANS"},{"p":"P9","d":10,"v":327,"s":"No-ICANS"},{"p":"P9","d":13,"v":4182,"s":"No-ICANS"},{"p":"P9","d":35,"v":3568,"s":"No-ICANS"}
        ]},
        "layer": [
          {"mark": {"type": "line", "strokeWidth": 1, "color": "#8a8a8a"},
           "encoding": {
            "x": {"field": "d", "type": "quantitative", "scale": {"domain": [-2.75, 36.9], "nice": false, "zero": false},
                  "axis": {"title": "Day", "values": [0,10,20,30], "labelFontSize": 9, "titleFontSize": 11, "tickSize": 4, "labelPadding": 2, "titlePadding": 2}},
            "y": {"field": "v", "type": "quantitative", "scale": {"domain": [-390, 7320], "nice": false, "zero": false},
                  "axis": {"title": "sc5b9 ng/mL", "values": [0,2000,4000,6000], "format": "d", "labelFontSize": 9, "titleFontSize": 10.5, "tickSize": 4, "labelPadding": 2, "titlePadding": 4}},
            "detail": {"field": "p"}
           }},
          {"mark": {"type": "circle", "size": 9, "opacity": 1},
           "encoding": {
            "x": {"field": "d", "type": "quantitative"},
            "y": {"field": "v", "type": "quantitative"},
            "color": {"field": "s", "type": "nominal", "scale": {"domain": ["ICANS", "No-ICANS"], "range": ["#e8962a", "#8a8a8a"]},
              "legend": {"title": "ICANS_Status", "orient": "none", "legendX": 154, "legendY": 4, "titleFontSize": 10.5, "labelFontSize": 9, "symbolSize": 14, "symbolType": "circle", "rowPadding": 2, "titlePadding": 5, "symbolOffset": 6}}
           }},
          {"data": {"values": [{"a": 0}]},
           "mark": {"type": "rule", "strokeDash": [6, 4], "strokeWidth": 1.4, "color": "#000"},
           "encoding": {"y": {"datum": 250}}}
        ]
      }
      ]
    },
    {
      "width": 280, "height": 235,
      "title": {"text": "E", "frame": "group", "offset": 20, "dx": -14},
      "layer": [
        {"data": {"values": [{"status":"ICANS","lo":430,"q1":1398,"med":3533,"q3":6000,"hi":7097},{"status":"No ICANS","lo":1469,"q1":1798,"med":1940,"q3":2517,"hi":2612}]},
         "mark": {"type": "rule", "color": "#333", "strokeWidth": 1},
         "encoding": {
          "x": {"field": "status", "type": "nominal", "scale": {"domain": ["ICANS", "No ICANS"], "range": [18, 280], "paddingInner": 0, "paddingOuter": 0.106},
                "axis": {"title": null, "labelFontSize": 10, "labelAngle": 0, "tickSize": 4, "labelPadding": 1}},
          "y": {"field": "lo", "type": "quantitative", "scale": {"domain": [40, 8350], "nice": false, "zero": false},
                "axis": {"title": "sc5b9", "titleFontSize": 13, "labelFontSize": 10, "values": [2000,4000,6000,8000], "format": "d", "tickSize": 4, "labelPadding": 1, "titlePadding": 1, "offset": -18}},
          "y2": {"field": "hi"}
         }},
        {"data": {"values": [{"status":"ICANS","lo":430,"q1":1398,"med":3533,"q3":6000,"hi":7097},{"status":"No ICANS","lo":1469,"q1":1798,"med":1940,"q3":2517,"hi":2612}]},
         "mark": {"type": "bar", "width": {"band": 0.755}, "stroke": "#333", "strokeWidth": 1},
         "encoding": {
          "x": {"field": "status", "type": "nominal"},
          "y": {"field": "q1", "type": "quantitative"},
          "y2": {"field": "q3"},
          "color": {"field": "status", "type": "nominal", "scale": {"domain": ["ICANS", "No ICANS"], "range": ["#e59e27", "#999999"]},
            "legend": {"title": "ICANS Status", "orient": "none", "legendX": 296, "legendY": 92, "titleFontSize": 13, "labelFontSize": 11.5, "symbolType": "square", "symbolSize": 140, "symbolStrokeColor": "#333", "symbolStrokeWidth": 1, "rowPadding": 3, "titlePadding": 6}}
         }},
        {"data": {"values": [{"status":"ICANS","med":3533},{"status":"No ICANS","med":1940}]},
         "mark": {"type": "tick", "color": "#1a1a1a", "thickness": 2.5, "size": 89, "opacity": 1},
         "encoding": {"x": {"field": "status", "type": "nominal"}, "y": {"field": "med", "type": "quantitative"}}},
        {"data": {"values": [{"status":"No ICANS","v":4180}]},
         "mark": {"type": "circle", "color": "#111", "size": 16, "opacity": 1},
         "encoding": {"x": {"field": "status", "type": "nominal"}, "y": {"field": "v", "type": "quantitative"}}},
        {"data": {"values": [{"label": "T-test, p = 0.046"}]},
         "mark": {"type": "text", "fontSize": 9, "font": "Liberation Sans Narrow, DejaVu Sans Condensed, sans-serif", "dx": 15, "color": "#111"},
         "encoding": {"x": {"datum": "ICANS"}, "y": {"datum": 8100}, "text": {"field": "label"}}}
      ]
    }
    ]
  }
  ]
}
]
}
